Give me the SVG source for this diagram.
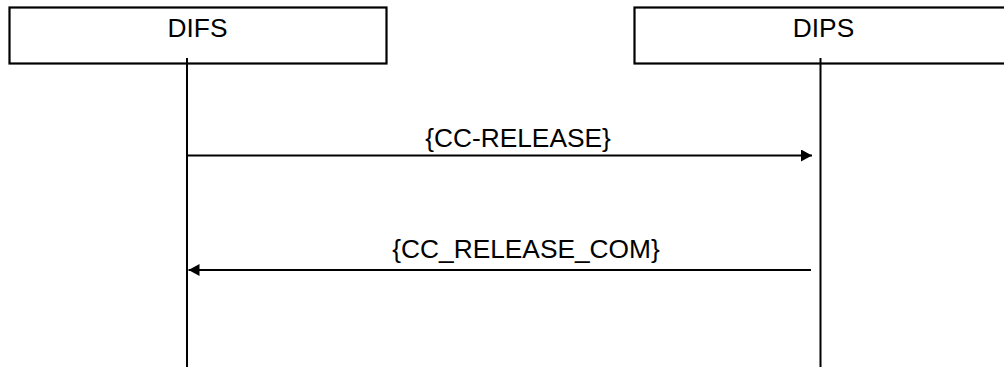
<svg xmlns="http://www.w3.org/2000/svg" width="1004" height="367" viewBox="0 0 1004 367">
<style>
.box{fill:#fff;stroke:#000;stroke-width:2.2}
.life{stroke:#000;stroke-width:2;fill:none}
.msg{stroke:#000;stroke-width:2;fill:none}
.t{font-family:"Liberation Sans",Arial,sans-serif;font-size:26.3px;fill:#000;text-anchor:middle}
</style>
<defs>
<marker id="ah" viewBox="0 0 11 12" refX="11" refY="6" markerWidth="11" markerHeight="12" markerUnits="userSpaceOnUse" orient="auto">
<path d="M0,0 L11,6 L0,12 Z" fill="#000"/>
</marker>
</defs>
<g id="DIFS">
<rect class="box" x="9.5" y="7.5" width="377" height="56"/>
<text class="t" x="197.5" y="36.5">DIFS</text>
</g>
<g id="DIPS">
<rect class="box" x="634.5" y="7.5" width="377" height="56"/>
<text class="t" x="823.5" y="36.5">DIPS</text>
</g>
<g id="connectors">
<line class="life" x1="187" y1="58" x2="187" y2="367"/>
<line class="life" x1="820.5" y1="58" x2="820.5" y2="367"/>
<line class="msg" x1="187" y1="155.5" x2="812" y2="155.5" marker-end="url(#ah)"/>
<text class="t" x="518" y="147">{CC-RELEASE}</text>
<line class="msg" x1="811" y1="270" x2="188.5" y2="270" marker-end="url(#ah)"/>
<text class="t" x="526" y="257.5">{CC_RELEASE_COM}</text>
</g>
</svg>
